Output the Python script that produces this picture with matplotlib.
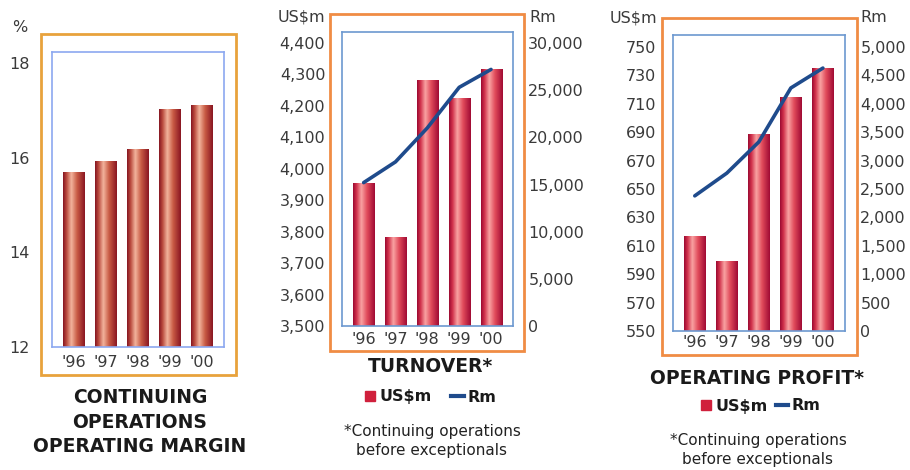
import numpy as np
import matplotlib
matplotlib.use("Agg")
import matplotlib.pyplot as plt
from matplotlib.colors import LinearSegmentedColormap
from matplotlib.patches import Rectangle
from matplotlib.lines import Line2D

# data
years = ["'96", "'97", "'98", "'99", "'00"]
margin_pct = [15.70, 15.93, 16.18, 17.03, 17.11]
turnover_usd = [3955, 3783, 4282, 4225, 4317]
turnover_rand = [15200, 17400, 21000, 25300, 27200]
profit_usd = [617, 599, 689, 715, 735]
profit_rand = [2380, 2780, 3330, 4280, 4630]

margin_ticks = [12, 14, 16, 18]
turnover_usd_ticks = list(range(3500, 4401, 100))
turnover_rand_ticks = list(range(0, 30001, 5000))
profit_usd_ticks = list(range(550, 751, 20))
profit_rand_ticks = list(range(0, 5001, 500))

W, H = 910, 470
plt.rcParams['font.family'] = 'DejaVu Sans'

fig = plt.figure(figsize=(W / 100, H / 100), dpi=100)

TXT = '#3a3a3a'
LINE = '#1f4b8c'
FS = 11.5

brown = LinearSegmentedColormap.from_list(
    'brown', [(0, '#861622'), (0.15, '#b8483c'), (0.38, '#f2b39c'),
              (0.65, '#c85a44'), (1, '#8a1622')])
crimson = LinearSegmentedColormap.from_list(
    'crimson', [(0, '#9c0a32'), (0.15, '#d0304a'), (0.38, '#f9a2a2'),
                (0.65, '#e04a5a'), (1, '#a00a34')])


def px_rect(x0, y0, x1, y1):
    return [x0 / W, 1 - y1 / H, (x1 - x0) / W, (y1 - y0) / H]


def ftext(x, y, s, **kw):
    fig.text(x / W, 1 - y / H, s, **kw)


def frame(x0, y0, x1, y1, color):
    fig.patches.append(Rectangle((x0 / W, 1 - y1 / H), (x1 - x0) / W, (y1 - y0) / H,
                                 transform=fig.transFigure, fill=False,
                                 edgecolor=color, linewidth=2))


def gradient_bars(ax, values, base, cmap):
    x = np.arange(len(values))
    bars = ax.bar(x, np.array(values) - base, bottom=base, width=0.66,
                  facecolor='none', edgecolor='none', zorder=2)
    grad = np.linspace(0, 1, 64).reshape(1, -1)
    for b in bars:
        x0, y0 = b.get_x(), b.get_y()
        im = ax.imshow(grad, extent=[x0, x0 + b.get_width(), y0, y0 + b.get_height()],
                       aspect='auto', cmap=cmap, zorder=2, interpolation='bilinear')
        im.set_clip_path(b)


def setup_axes(ax, ticks, top, spine_color, xpad):
    ax.set_xlim(-0.68, 4.69)
    ax.set_ylim(ticks[0], top)
    ax.set_yticks(ticks)
    ax.set_xticks(range(len(years)))
    ax.set_xticklabels(years)
    for s in ax.spines.values():
        s.set_color(spine_color)
        s.set_linewidth(1.2)
    ax.tick_params(axis='both', length=0, labelsize=FS, labelcolor=TXT)
    ax.tick_params(axis='x', pad=xpad)


# --- chart 1: operating margin ---
frame(41, 34, 236, 375, '#e8a23c')
ax1 = fig.add_axes(px_rect(52, 52, 224, 347))
gradient_bars(ax1, margin_pct, 12, brown)
setup_axes(ax1, margin_ticks, 18.23, '#8ca8f0', 6)
ax1.tick_params(axis='y', pad=16)
ftext(12, 27, '%', fontsize=FS, color=TXT, va='center')
ftext(140, 422, 'CONTINUING\nOPERATIONS\nOPERATING MARGIN', fontsize=13.5,
      fontweight='bold', color='#1a1a1a', ha='center', va='center', linespacing=1.35)

# --- chart 2: turnover ---
frame(330, 14, 524, 351, '#f08c44')
ax2 = fig.add_axes(px_rect(342, 32, 513, 326))
gradient_bars(ax2, turnover_usd, 3500, crimson)
setup_axes(ax2, turnover_usd_ticks, 4435, '#6c98d0', 4)
ax2.set_yticklabels([f'{v:,}' for v in turnover_usd_ticks])
ax2.tick_params(axis='y', pad=12)
tw2 = ax2.twinx()
tw2.plot(range(len(years)), turnover_rand, color=LINE, linewidth=2.6,
         solid_joinstyle='round', solid_capstyle='round')
tw2.set_ylim(0, 30000 * (4435 - 3500) / 900)
tw2.set_yticks(turnover_rand_ticks)
tw2.set_yticklabels([f'{v:,}' for v in turnover_rand_ticks])
tw2.tick_params(length=0, labelsize=FS, labelcolor=TXT, pad=11)
for s in tw2.spines.values():
    s.set_visible(False)
ftext(325, 17, 'US$m', fontsize=FS, color=TXT, ha='right', va='center')
ftext(529, 17, 'Rm', fontsize=FS, color=TXT, ha='left', va='center')
ftext(430, 367, 'TURNOVER*', fontsize=13.5, fontweight='bold', color='#1a1a1a',
      ha='center', va='center')

# --- chart 3: operating profit ---
frame(662, 18, 857, 355, '#f08c44')
ax3 = fig.add_axes(px_rect(673, 35, 845, 331))
gradient_bars(ax3, profit_usd, 550, crimson)
setup_axes(ax3, profit_usd_ticks, 758.5, '#6c98d0', 3)
ax3.tick_params(axis='y', pad=12)
tw3 = ax3.twinx()
tw3.plot(range(len(years)), profit_rand, color=LINE, linewidth=2.6,
         solid_joinstyle='round', solid_capstyle='round')
tw3.set_ylim(0, 5000 * (758.5 - 550) / 200)
tw3.set_yticks(profit_rand_ticks)
tw3.set_yticklabels([f'{v:,}' for v in profit_rand_ticks])
tw3.tick_params(length=0, labelsize=FS, labelcolor=TXT, pad=11)
for s in tw3.spines.values():
    s.set_visible(False)
ftext(657, 18, 'US$m', fontsize=FS, color=TXT, ha='right', va='center')
ftext(860, 18, 'Rm', fontsize=FS, color=TXT, ha='left', va='center')
ftext(757, 378, 'OPERATING PROFIT*', fontsize=13.5, fontweight='bold', color='#1a1a1a',
      ha='center', va='center')

# legends and footnotes for charts 2 and 3
handles = [Line2D([], [], marker='s', ls='none', color='#d0203c', markersize=7),
           Line2D([], [], color=LINE, linewidth=3)]
for cx, cy, gap in [(430, 397, 1.2), (760, 406, 0.5)]:
    fig.legend(handles, ['US$m', 'Rm'], loc='center', bbox_to_anchor=(cx / W, 1 - cy / H),
               ncol=2, frameon=False, handlelength=0.8, handletextpad=0.2,
               columnspacing=gap, prop={'weight': 'bold', 'size': 11.5},
               labelcolor='#1a1a1a')

ftext(432, 441, '*Continuing operations\nbefore exceptionals', fontsize=11, color='#222222',
      ha='center', va='center', linespacing=1.3)
ftext(758, 450, '*Continuing operations\nbefore exceptionals', fontsize=11, color='#222222',
      ha='center', va='center', linespacing=1.3)

fig.savefig('out.png', dpi=100)
